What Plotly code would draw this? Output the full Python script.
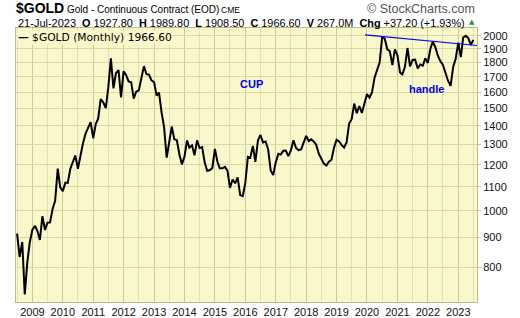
import math
import pandas as pd
import plotly.graph_objects as go

# ---------------- data ----------------
series_start = "2008-07-01"
gold_close = [
    914, 833, 884, 718, 816, 884,                                   # 2008 Jul-Dec
    928, 942, 924, 891, 979, 927, 954, 955, 1008, 1040, 1182, 1097,  # 2009
    1081, 1118, 1116, 1180, 1213, 1245, 1181, 1248, 1308, 1357, 1385, 1421,  # 2010
    1333, 1411, 1439, 1556, 1536, 1502, 1628, 1829, 1624, 1725, 1746, 1566,  # 2011
    1738, 1710, 1669, 1664, 1559, 1604, 1610, 1688, 1773, 1719, 1713, 1676,  # 2012
    1663, 1578, 1596, 1476, 1393, 1234, 1312, 1396, 1327, 1323, 1250, 1202,  # 2013
    1240, 1321, 1284, 1296, 1246, 1322, 1282, 1287, 1210, 1171, 1175, 1184,  # 2014
    1278, 1213, 1183, 1183, 1190, 1172, 1095, 1132, 1115, 1142, 1064, 1060,  # 2015
    1116, 1238, 1234, 1293, 1214, 1322, 1350, 1311, 1316, 1276, 1173, 1152,  # 2016
    1212, 1253, 1249, 1268, 1269, 1242, 1270, 1322, 1283, 1271, 1275, 1309,  # 2017
    1345, 1318, 1327, 1316, 1299, 1254, 1233, 1206, 1196, 1215, 1224, 1283,  # 2018
    1325, 1316, 1298, 1285, 1311, 1413, 1437, 1529, 1472, 1514, 1473, 1523,  # 2019
    1588, 1566, 1597, 1694, 1751, 1800, 1986, 1978, 1895, 1880, 1781, 1895,  # 2020
    1850, 1729, 1716, 1768, 1905, 1771, 1817, 1819, 1757, 1784, 1776, 1829,  # 2021
    1796, 1901, 1954, 1911, 1848, 1807, 1782, 1727, 1672, 1640, 1768, 1826,  # 2022
    1946, 1837, 1986, 1999, 1982, 1929, 1967,                                # 2023
]
gold_dates = pd.date_range(series_start, periods=len(gold_close), freq="MS")

trend_dates = ["2019-12-08", "2023-09-15"]
trend_values = [2006, 1922]

y_ticks = [800, 900, 1000, 1100, 1200, 1300, 1400, 1500, 1600, 1700, 1800, 1900, 2000]
y_tick_labels = [str(v) for v in y_ticks]
years = list(range(2009, 2024))
year_labels = [str(y) for y in years]

title_symbol = "$GOLD"
title_desc = "Gold - Continuous Contract (EOD)"
title_exch = "CME"
quote_date = "21-Jul-2023"
quote_text = ("<b>O</b> 1927.80&nbsp;&nbsp;<b>H</b> 1989.80&nbsp;&nbsp;<b>L</b> 1908.50&nbsp;&nbsp;"
              "<b>C</b> 1966.60&nbsp;&nbsp;<b>V</b> 267.0M&nbsp;&nbsp;<b>Chg</b> +37.20 (+1.93%)")
legend_text = "<b>\u2014</b> $GOLD (Monthly) 1966.60"
cup_label = "CUP"
handle_label = "handle"
cup_pos = ("2016-03-15", 1652)
handle_pos = ("2021-12-15", 1622)

# ---------------- layout geometry ----------------
W, H = 520, 318
L, R, T, B = 16, 43, 28, 16
PW, PH = W - L - R, H - T - B


def px(x):
    return (x - L) / PW


def py(y):
    return (H - B - y) / PH


PLOT_BG = "#f8f8cb"
ARIAL = "Liberation Sans, Arial"

fig = go.Figure()
fig.add_trace(go.Scatter(x=gold_dates, y=gold_close, mode="lines",
                         line=dict(color="#000000", width=2), showlegend=False,
                         hoverinfo="x+y"))
fig.add_trace(go.Scatter(x=trend_dates, y=trend_values, mode="lines",
                         line=dict(color="#0000ff", width=1.2), showlegend=False))

annotations = [
    dict(text=f"<b>{title_symbol}</b>", x=px(14), y=py(8.5), xref="paper", yref="paper",
         xanchor="left", yanchor="middle", showarrow=False,
         font=dict(family=ARIAL, size=14, color="#000")),
    dict(text=title_desc, x=px(65), y=py(9), xref="paper", yref="paper",
         xanchor="left", yanchor="middle", showarrow=False,
         font=dict(family=ARIAL, size=10, color="#000")),
    dict(text=title_exch, x=px(219), y=py(9.5), xref="paper", yref="paper",
         xanchor="left", yanchor="middle", showarrow=False,
         font=dict(family=ARIAL, size=8.5, color="#000")),
    dict(text=quote_date, x=px(16), y=py(22.5), xref="paper", yref="paper",
         xanchor="left", yanchor="middle", showarrow=False,
         font=dict(family=ARIAL, size=11, color="#000")),
    dict(text=quote_text, x=px(80), y=py(22.5), xref="paper", yref="paper",
         xanchor="left", yanchor="middle", showarrow=False,
         font=dict(family=ARIAL, size=10.9, color="#000")),
    dict(text="\u25B2", x=px(477), y=py(22), xref="paper", yref="paper",
         xanchor="right", yanchor="middle", showarrow=False,
         font=dict(family="DejaVu Sans", size=7, color="#229922")),
    dict(text="\u00A9 StockCharts.com", x=px(477), y=py(9), xref="paper", yref="paper",
         xanchor="right", yanchor="middle", showarrow=False,
         font=dict(family=ARIAL, size=12.5, color="#555555")),
    dict(text=legend_text, x=px(17), y=py(29.5), xref="paper", yref="paper",
         xanchor="left", yanchor="top", showarrow=False, bgcolor=PLOT_BG,
         borderpad=0,
         font=dict(family="DejaVu Sans", size=10.7, color="#000")),
    dict(text=f"<b>{cup_label}</b>", x=cup_pos[0], y=math.log10(cup_pos[1]),
         xref="x", yref="y", showarrow=False,
         font=dict(family=ARIAL, size=11, color="#0000ee")),
    dict(text=f"<b>{handle_label}</b>", x=handle_pos[0], y=math.log10(handle_pos[1]),
         xref="x", yref="y", showarrow=False,
         font=dict(family=ARIAL, size=11, color="#0000ee")),
]

fig.update_layout(
    width=W, height=H,
    margin=dict(l=L, r=R, t=T, b=B, pad=0, autoexpand=False),
    paper_bgcolor="#ffffff",
    plot_bgcolor=PLOT_BG,
    annotations=annotations,
    showlegend=False,
    xaxis=dict(
        type="date",
        automargin=False,
        range=["2008-06-18", "2023-08-14"],
        tickmode="array",
        tickvals=[f"{y}-01-01" for y in years],
        ticktext=year_labels,
        showgrid=True, gridcolor="#c9cd92", gridwidth=1,
        minor=dict(tickmode="array", tickvals=[f"{y}-07-01" for y in [2008] + years],
                   showgrid=True, gridcolor="#e0e1b4", ticks=""),
        showline=True, linecolor="#b9bc8a", linewidth=1, mirror=True,
        ticks="", zeroline=False,
        tickfont=dict(family=ARIAL, size=11, color="#111"),
    ),
    yaxis=dict(
        type="log",
        automargin=False,
        range=[math.log10(697), math.log10(2062)],
        side="right",
        tickmode="array",
        tickvals=y_ticks,
        ticktext=y_tick_labels,
        showgrid=True, gridcolor="#d8daa6", gridwidth=1,
        showline=True, linecolor="#b9bc8a", linewidth=1, mirror=True,
        ticks="outside", ticklen=3, tickcolor="#c8c8b0",
        zeroline=False,
        tickfont=dict(family=ARIAL, size=11, color="#111"),
    ),
)

fig.write_html("out.html")
